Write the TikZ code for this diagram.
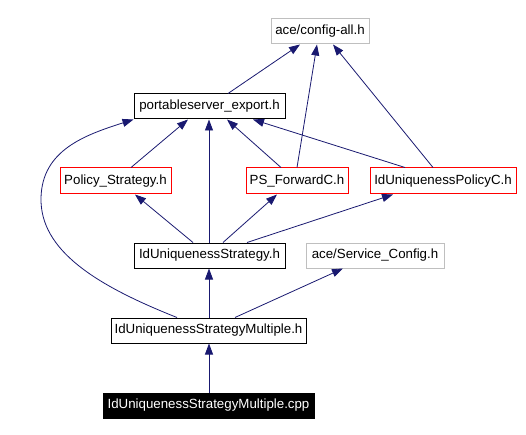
\documentclass[tikz,border=0pt]{standalone}
\usepackage{fontspec}
\setmainfont{Liberation Sans}
\usetikzlibrary{arrows.meta}
\definecolor{edgeblue}{RGB}{25,25,112}
\definecolor{boxgrey}{RGB}{191,191,191}
\begin{document}
\begin{tikzpicture}[x=1pt,y=-1pt,
  every node/.style={font=\fontsize{13.3}{16}\selectfont, inner sep=0pt, line width=1pt},
  blackbox/.style={draw=black, minimum height=25},
  redbox/.style={draw=red, minimum height=26},
  greybox/.style={draw=boxgrey, minimum height=25},
  filebox/.style={draw=black, fill=black, text=white, minimum height=25},
  edge/.style={draw=edgeblue, line width=0.8pt, -{Triangle[length=11pt,width=8pt]}}]
\useasboundingbox (0,0) rectangle (526,435);
\node[greybox, minimum width=98] (config) at (320,31.5) {ace/config-all.h};
\node[blackbox, minimum width=151] (pse) at (209.5,106.5) {portableserver\_export.h};
\node[redbox, minimum width=111] (policy) at (115.5,181) {Policy\_Strategy.h};
\node[redbox, minimum width=102] (psf) at (297,181) {PS\_ForwardC.h};
\node[redbox, minimum width=146] (iupc) at (443,181) {IdUniquenessPolicyC.h};
\node[blackbox, minimum width=151] (ius) at (209.5,255.5) {IdUniquenessStrategy.h};
\node[greybox, minimum width=138] (svc) at (375,255.5) {ace/Service\_Config.h};
\node[blackbox, minimum width=195] (mult) at (208.5,330.5) {IdUniquenessStrategyMultiple.h};
\node[filebox, minimum width=211] (cpp) at (208.5,405.5) {IdUniquenessStrategyMultiple.cpp};

\draw[edge] ([xshift=18.5]pse.north) -- ([xshift=-20]config.south);
\draw[edge] (psf.north) -- ([xshift=-3]config.south);
\draw[edge] ([xshift=-10]iupc.north) -- ([xshift=13]config.south);
\draw[edge] ([xshift=15.5]policy.north) -- ([xshift=-21.5]pse.south);
\draw[edge] ([xshift=-0.5]ius.north) -- ([xshift=-0.5]pse.south);
\draw[edge] ([xshift=-16]psf.north) -- ([xshift=17.5]pse.south);
\draw[edge] ([xshift=-38]iupc.north) -- ([xshift=43.5]pse.south);
\draw[edge] ([xshift=-31.5]mult.north) .. controls (95,285) and (40,250) .. (41,198)
  .. controls (42,150) and (85,135) .. ([xshift=-76]pse.south);
\draw[edge] ([xshift=-16.5]ius.north) -- ([xshift=19.5]policy.south);
\draw[edge] ([xshift=13.5]ius.north) -- ([xshift=-20]psf.south);
\draw[edge] ([xshift=37.5]ius.north) -- ([xshift=-50]iupc.south);
\draw[edge] ([xshift=0.5]mult.north) -- ([xshift=-0.5]ius.south);
\draw[edge] ([xshift=26.5]mult.north) -- ([xshift=-32]svc.south);
\draw[edge] ([xshift=0.5]cpp.north) -- ([xshift=0.5]mult.south);
\end{tikzpicture}
\end{document}
